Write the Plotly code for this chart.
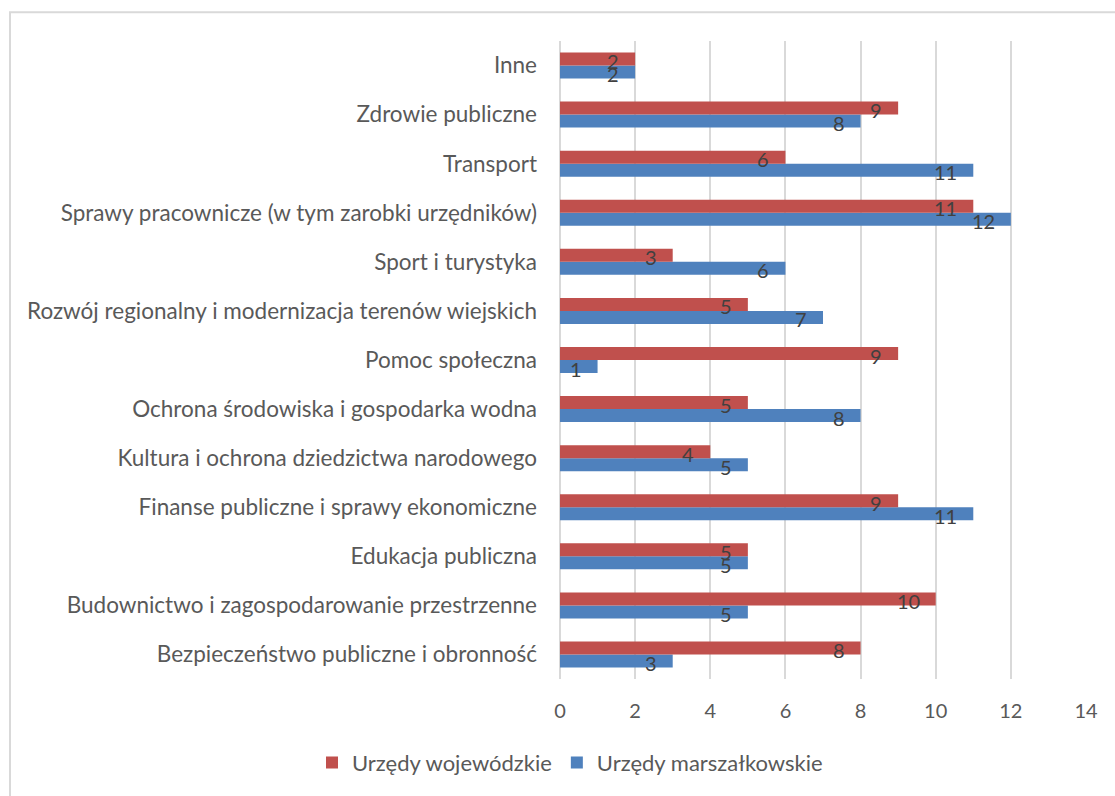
import plotly.graph_objects as go

# Categories listed bottom-to-top as they appear on the axis
categories = [
    "Bezpieczeństwo publiczne i obronność",
    "Budownictwo i zagospodarowanie przestrzenne",
    "Edukacja publiczna",
    "Finanse publiczne i sprawy ekonomiczne",
    "Kultura i ochrona dziedzictwa narodowego",
    "Ochrona środowiska i gospodarka wodna",
    "Pomoc społeczna",
    "Rozwój regionalny i modernizacja terenów wiejskich",
    "Sport i turystyka",
    "Sprawy pracownicze (w tym zarobki urzędników)",
    "Transport",
    "Zdrowie publiczne",
    "Inne",
]
urzedy_wojewodzkie = [8, 10, 5, 9, 4, 5, 9, 5, 3, 11, 6, 9, 2]
urzedy_marszalkowskie = [3, 5, 5, 11, 5, 8, 1, 7, 6, 12, 11, 8, 2]
x_ticks = [0, 2, 4, 6, 8, 10, 12, 14]

RED = "#C0504D"
BLUE = "#4F81BD"
GRID = "#D9D9D9"
FONT = "Lato"

W, H = 1115, 796
M_L, M_R, M_T, M_B = 560, 29, 41, 114
plot_w = W - M_L - M_R
plot_h = H - M_T - M_B

fig = go.Figure()
fig.add_trace(go.Bar(
    y=categories, x=urzedy_marszalkowskie, orientation="h",
    name="Urzędy marszałkowskie", marker=dict(color=BLUE, line=dict(width=0)),
))
fig.add_trace(go.Bar(
    y=categories, x=urzedy_wojewodzkie, orientation="h",
    name="Urzędy wojewódzkie", marker=dict(color=RED, line=dict(width=0)),
))

# value labels near the inner end of each bar
half_bar = 6.5
annotations = []
for cat, v_w, v_m in zip(categories, urzedy_wojewodzkie, urzedy_marszalkowskie):
    for val, dy in ((v_w, half_bar - 2), (v_m, -half_bar - 2)):
        annotations.append(dict(
            x=val, y=cat, xref="x", yref="y", text=str(val), showarrow=False,
            xanchor="right", yanchor="middle", xshift=-14, yshift=dy,
            font=dict(family=FONT, size=20, color="#404040"),
        ))

# light outer border of the chart area (right and bottom edges fall off the page)
def px_to_paper_x(px):
    return (px - M_L) / plot_w

def px_to_paper_y(py):
    return 1 - (py - M_T) / plot_h

shapes = [dict(
    type="rect", xref="paper", yref="paper",
    x0=px_to_paper_x(10), x1=px_to_paper_x(W + 20),
    y0=px_to_paper_y(H + 20), y1=px_to_paper_y(12),
    line=dict(color=GRID, width=2), fillcolor="rgba(0,0,0,0)", layer="below",
)]

fig.update_layout(
    width=W, height=H,
    margin=dict(l=M_L, r=M_R, t=M_T, b=M_B, pad=0),
    paper_bgcolor="white", plot_bgcolor="white",
    barmode="group", bargap=0.47, bargroupgap=0,
    font=dict(family=FONT, size=20, color="#595959"),
    xaxis=dict(
        range=[0, 14], tickvals=x_ticks, showgrid=True, gridcolor=GRID, gridwidth=2,
        zeroline=True, zerolinecolor=GRID, zerolinewidth=2, showline=False,
        ticks="", ticklabelstandoff=18, tickfont=dict(size=20, color="#595959"),
        fixedrange=True,
    ),
    yaxis=dict(
        showgrid=False, zeroline=False, showline=False, ticks="",
        ticklabelstandoff=22, tickfont=dict(size=22.5, color="#595959"),
        categoryorder="array", categoryarray=categories,
    ),
    legend=dict(
        orientation="h", traceorder="reversed",
        x=px_to_paper_x(570), xanchor="center",
        y=px_to_paper_y(766), yanchor="middle",
        font=dict(family=FONT, size=22, color="#595959"),
    ),
    annotations=annotations,
    shapes=shapes,
)

fig.write_html("out.html")
